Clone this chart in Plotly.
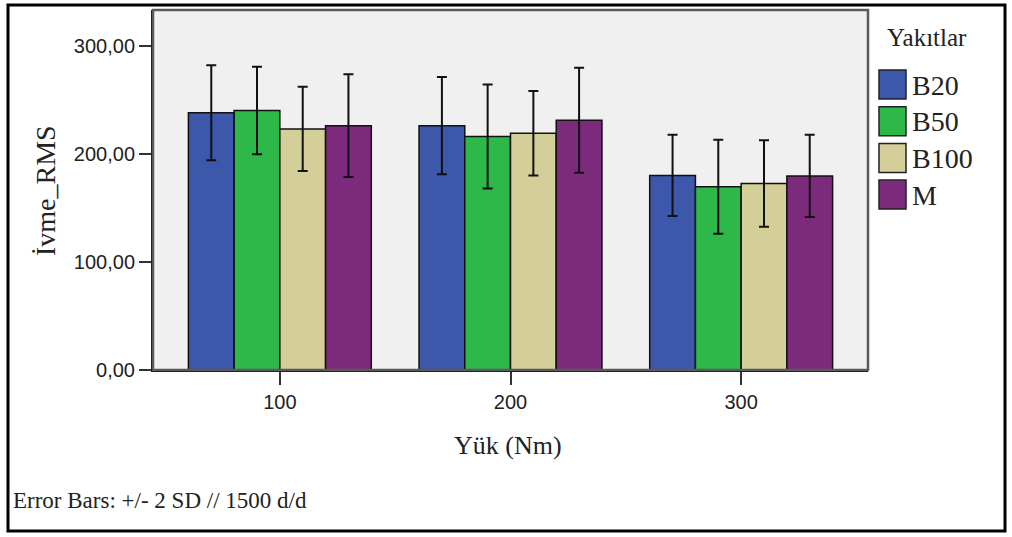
import plotly.graph_objects as go

# ---- data ----
loads = ["100", "200", "300"]
series_names = ["B20", "B50", "B100", "M"]
b20_mean = [238, 226, 180]
b20_err = [44, 45, 37.5]
b50_mean = [240, 216, 169.5]
b50_err = [40.5, 48, 43.5]
b100_mean = [223, 219, 172.5]
b100_err = [39, 39, 40]
m_mean = [226, 231, 179.5]
m_err = [47.5, 48.5, 38]
y_ticks = [0, 100, 200, 300]

colors = ["#3D57AA", "#2FB84A", "#D4CE98", "#7C2A7C"]
means = [b20_mean, b50_mean, b100_mean, m_mean]
errs = [b20_err, b50_err, b100_err, m_err]

W, H = 1012, 537
L, R, T, B = 153, 868, 10, 370  # plot area in pixels


def px(xp):
    return (xp - L) / (R - L)


def py(yp):
    return (B - yp) / (B - T)


SERIF = "Liberation Serif, Times New Roman, serif"
SANS = "Liberation Sans, Arial, sans-serif"

fig = go.Figure()
for name, col, mv, ev in zip(series_names, colors, means, errs):
    fig.add_trace(go.Bar(
        x=loads, y=mv, name=name,
        marker=dict(color=col, line=dict(color="#111111", width=1.5)),
        error_y=dict(type="data", array=ev, visible=True, color="#111111",
                     thickness=2, width=5),
        showlegend=False,
    ))

shapes = []
annotations = []

# plot frame (top/right grey border)
shapes.append(dict(type="rect", xref="paper", yref="paper", x0=0, x1=1, y0=0, y1=1,
                   line=dict(color="#5a5a5a", width=2.5), layer="above"))
# outer figure border
shapes.append(dict(type="rect", xref="paper", yref="paper",
                   x0=px(8), x1=px(1005), y0=py(531), y1=py(5),
                   line=dict(color="#000000", width=3), layer="above"))

# manual legend
annotations.append(dict(text="Yakıtlar", xref="paper", yref="paper",
                        x=px(885), y=py(38), xanchor="left", yanchor="middle",
                        showarrow=False, font=dict(family=SERIF, size=25, color="#222222")))
sw_top = 70
step = 36.7
for i, (name, col) in enumerate(zip(series_names, colors)):
    y0 = sw_top + i * step
    shapes.append(dict(type="rect", xref="paper", yref="paper",
                       x0=px(879), x1=px(906), y0=py(y0 + 29), y1=py(y0),
                       fillcolor=col, line=dict(color="#222222", width=1.5)))
    annotations.append(dict(text=name, xref="paper", yref="paper",
                            x=px(910), y=py(y0 + 15), xanchor="left", yanchor="middle",
                            showarrow=False,
                            font=dict(family=SERIF, size=28, color="#222222")))

# axis titles and footnote
annotations.append(dict(text="İvme_RMS", xref="paper", yref="paper",
                        x=px(45), y=py(191), xanchor="center", yanchor="middle",
                        textangle=-90, showarrow=False,
                        font=dict(family=SERIF, size=28, color="#222222")))
annotations.append(dict(text="Yük (Nm)", xref="paper", yref="paper",
                        x=px(508), y=py(445), xanchor="center", yanchor="middle",
                        showarrow=False,
                        font=dict(family=SERIF, size=26, color="#222222")))
annotations.append(dict(text="Error Bars: +/- 2 SD // 1500 d/d", xref="paper", yref="paper",
                        x=px(11), y=py(500), xanchor="left", yanchor="middle",
                        showarrow=False,
                        font=dict(family=SERIF, size=23, color="#222222")))

fig.update_layout(
    width=W, height=H, autosize=False,
    margin=dict(l=L, r=W - R, t=T, b=H - B),
    paper_bgcolor="white", plot_bgcolor="#F0F0F0",
    barmode="group", bargap=0.207, bargroupgap=0,
    separators=",.",
    shapes=shapes, annotations=annotations,
    showlegend=False,
)
fig.update_xaxes(type="category", range=[-0.55, 2.55], showgrid=False,
                 showline=True, linecolor="#111111", linewidth=2,
                 ticks="outside", ticklen=13, tickwidth=2, tickcolor="#333333",
                 tickfont=dict(family=SANS, size=20, color="#222222"),
                 zeroline=False)
fig.update_yaxes(range=[0, 333], tickvals=y_ticks, tickformat=".2f", showgrid=False,
                 showline=True, linecolor="#111111", linewidth=2,
                 ticks="outside", ticklen=12, tickwidth=2, tickcolor="#333333",
                 tickfont=dict(family=SANS, size=20, color="#222222"),
                 zeroline=False)

fig.write_html("out.html", config={"displayModeBar": False},
               post_script="document.body.style.margin='0';document.body.style.overflow='hidden';")
